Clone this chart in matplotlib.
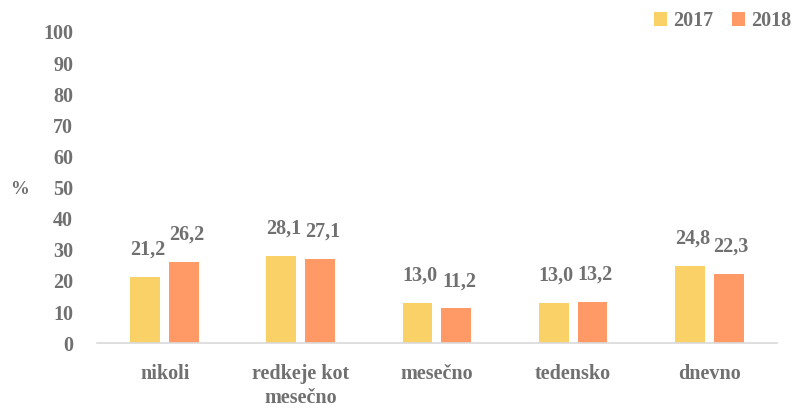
import numpy as np
import matplotlib.pyplot as plt

categories = ['nikoli', 'redkeje kot\nmesečno', 'mesečno', 'tedensko', 'dnevno']
values_2017 = [21.2, 28.1, 13.0, 13.0, 24.8]
values_2018 = [26.2, 27.1, 11.2, 13.2, 22.3]
years = ['2017', '2018']

plt.rcParams['font.family'] = ['Liberation Serif', 'DejaVu Serif']
plt.rcParams['font.weight'] = 'bold'

text_color = '#707070'
colors = ['#F9D166', '#FF9966']
fs = 14.5

fig = plt.figure(figsize=(7.93, 4.09), dpi=100)
ax = fig.add_axes([0.122, 0.161, 0.858, 0.761])

x = np.arange(len(categories))
width = 0.22
offset = 0.143

for vals, dx, color, year in [(values_2017, -offset, colors[0], years[0]),
                              (values_2018, offset, colors[1], years[1])]:
    bars = ax.bar(x + dx, vals, width, color=color, label=year)
    for b, v in zip(bars, vals):
        ax.text(b.get_x() + b.get_width() / 2 + 0.02, v + 5.5,
                f'{v:.1f}'.replace('.', ','), ha='center', va='bottom',
                fontsize=fs, color=text_color, fontweight='bold')

ax.set_xlim(-0.5, len(categories) - 0.5)
ax.set_ylim(0, 100)
ax.set_yticks(range(0, 101, 10))
ax.set_xticks(x)
ax.set_xticklabels(categories, fontsize=fs, color=text_color, linespacing=1.3)
ax.tick_params(axis='y', length=0, pad=17, labelsize=fs, labelcolor=text_color)
ax.tick_params(axis='x', length=0, pad=15)

for side in ['top', 'right', 'left']:
    ax.spines[side].set_visible(False)
ax.spines['bottom'].set_color('#D9D9D9')
ax.spines['bottom'].set_linewidth(1.2)

fig.text(20 / 793, 1 - 190 / 409, '%', ha='center', va='center',
         fontsize=fs - 1, color=text_color, fontweight='bold')

leg = ax.legend(loc='upper right', bbox_to_anchor=(791 / 793, 1 - 11 / 409),
                bbox_transform=fig.transFigure, borderaxespad=0, borderpad=0,
                ncol=2, frameon=False, fontsize=fs, handlelength=0.65,
                handleheight=0.65, columnspacing=0.9, handletextpad=0.3)
for t in leg.get_texts():
    t.set_color(text_color)

fig.savefig('out.png', dpi=100)
